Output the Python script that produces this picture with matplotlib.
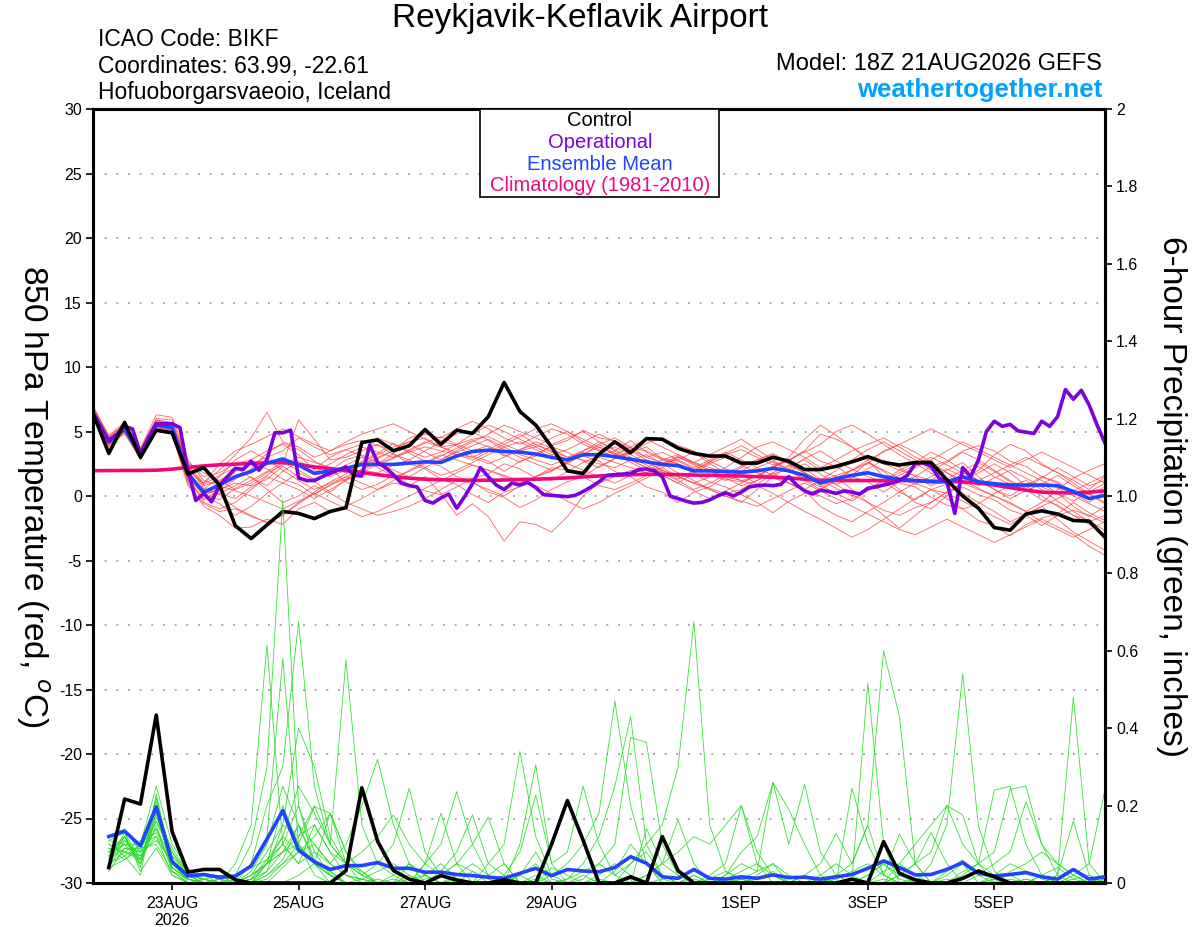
import numpy as np
import matplotlib
matplotlib.use("Agg")
import matplotlib.pyplot as plt
from matplotlib.patches import Rectangle

plt.rcParams['font.family'] = ['Liberation Sans', 'DejaVu Sans']

# -----------------------------
# data
# -----------------------------
station = "Reykjavik-Keflavik Airport"
info_lines = ["ICAO Code: BIKF", "Coordinates: 63.99, -22.61", "Hofuoborgarsvaeoio, Iceland"]
model_text = "Model: 18Z 21AUG2026 GEFS"
site_text = "weathertogether.net"

tick_hours = [30, 78, 126, 174, 246, 294, 342]
tick_labels = ["23AUG\n2026", "25AUG", "27AUG", "29AUG", "1SEP", "3SEP", "5SEP"]

# 850 hPa temperature, 6-hourly from 18Z 21AUG
control_t = [6.4, 3.3, 5.7, 3.0, 5.1, 4.9, 1.7, 2.2, 0.85, -2.3, -3.3, -2.25, -1.2, -1.35, -1.75, -1.2, -0.9,
             4.15, 4.35, 3.5, 3.9, 5.15, 4.0, 5.1, 4.85, 6.15, 8.8, 6.55, 5.5, 3.8, 1.95, 1.75, 3.25, 4.2,
             3.35, 4.45, 4.4, 3.7, 3.3, 3.1, 3.1, 2.55, 2.55, 3.0, 2.7, 2.05, 2.05, 2.3, 2.65, 3.05, 2.6,
             2.4, 2.6, 2.6, 1.25, 0.0, -0.95, -2.45, -2.65, -1.4, -1.15, -1.4, -1.9, -1.95, -3.2]
mean_t = [6.5, 4.2, 5.2, 3.2, 5.5, 5.3, 1.75, 0.3, 0.85, 1.5,
          1.9, 2.55, 2.85, 2.4, 1.75, 1.95, 2.15, 2.45, 2.45, 2.45,
          2.55, 2.65, 2.6, 3.1, 3.45, 3.55, 3.45, 3.4, 3.25, 3.0,
          2.8, 3.2, 3.2, 3.05, 2.85, 2.65, 2.45, 2.35, 1.95, 1.95,
          1.9, 1.85, 1.95, 2.15, 1.95, 1.6, 1.0, 1.35, 1.6, 1.8,
          1.5, 1.3, 1.2, 1.1, 1.1, 1.5, 1.1, 0.95, 0.85, 0.85,
          0.85, 0.8, 0.35, -0.2, 0.05]
clim_t = [1.96, 1.97, 1.98, 1.98, 2.0, 2.08, 2.22, 2.33, 2.42, 2.47,
          2.52, 2.57, 2.6, 2.45, 2.25, 2.12, 1.98, 1.82, 1.65, 1.5,
          1.38, 1.3, 1.26, 1.24, 1.22, 1.22, 1.24, 1.28, 1.3, 1.35,
          1.4, 1.48, 1.55, 1.6, 1.65, 1.68, 1.68, 1.66, 1.62, 1.6,
          1.58, 1.55, 1.5, 1.45, 1.4, 1.3, 1.22, 1.2, 1.2, 1.2,
          1.2, 1.2, 1.18, 1.15, 1.13, 1.1, 1.0, 0.85, 0.65, 0.45,
          0.3, 0.25, 0.25, 0.3, 0.4]
# operational run is 3-hourly
oper_t = [6.4, 5.3, 4.3, 4.8, 5.4, 5.2, 3.3, 4.5, 5.6, 5.6, 5.6, 5.3, 2.0, -0.35, 0.2, -0.45,
          0.85, 1.5, 2.15, 2.05, 2.7, 2.0, 2.8, 4.9, 4.9, 5.1, 1.4, 1.2, 1.2, 1.5, 1.75, 2.0,
          2.25, 1.6, 1.55, 3.95, 2.6, 2.2, 1.65, 1.0, 0.8, 0.7, -0.35, -0.55, -0.15, 0.15, -0.95, -0.05,
          0.95, 2.2, 1.5, 0.85, 0.5, 1.0, 0.85, 1.05, 0.65, 0.1, 0.05, 0.0, -0.05, 0.05, 0.35, 0.7,
          1.1, 1.6, 1.65, 1.7, 1.75, 2.05, 2.1, 1.95, 1.5, 0.0, -0.2, -0.4, -0.55, -0.5, -0.3, 0.0,
          0.25, 0.0, 0.3, 0.7, 0.8, 0.85, 0.8, 0.9, 1.5, 0.85, 0.4, 0.15, 0.45, 0.35, 0.2, 0.4,
          0.3, 0.15, 0.6, 0.7, 0.85, 1.0, 1.2, 1.6, 2.5, 2.6, 2.3, 1.4, 1.1, -1.35, 2.2, 1.5,
          2.8, 5.0, 5.8, 5.4, 5.55, 5.05, 4.95, 4.85, 5.8, 5.4, 6.15, 8.25, 7.5, 8.2, 7.05, 5.5,
          4.1]

ens_t = [
    [6.8, 4.5, 5.0, 3.5, 5.8, 5.6, 2.4, 1.0, 2.0, 3.2, 4.5, 6.5, 4.2, 3.8, 3.0, 3.5, 4.0, 4.3, 3.9, 3.6, 4.2, 4.5, 3.8, 4.0, 4.4, 4.6, 4.0, 3.5, 3.8, 4.5, 5.0, 4.2, 3.6, 3.0, 3.4, 3.8, 2.9, 2.5, 2.0, 2.6, 3.2, 3.6, 3.0, 2.4, 2.8, 3.5, 4.8, 4.4, 3.8, 3.0, 2.5, 2.0, 1.6, 1.2, 2.0, 2.6, 1.5, 0.5, 0.0, 0.8, 1.5, 1.0, 0.2, -0.5, 0.4],
    [6.3, 4.0, 5.3, 3.0, 5.2, 5.0, 1.0, -0.8, -1.5, -2.5, -2.4, -1.8, -2.2, -1.0, -0.5, -1.2, -0.8, -0.2, 0.5, 1.0, 0.8, 1.5, 0.2, -1.5, -0.6, -1.6, -3.5, -2.0, -2.2, -2.8, -1.6, 0.0, 1.0, 1.5, 2.0, 1.8, 2.2, 1.5, 1.0, 0.6, 0.2, 0.5, 1.2, 1.8, 1.0, 0.4, -0.8, -1.5, -2.0, -1.2, -0.5, 0.3, 1.0, 0.5, -0.2, -1.0, -0.6, 0.2, 0.8, 1.2, 0.5, -0.4, -1.2, -2.0, -1.5],
    [6.6, 4.3, 5.4, 3.3, 5.6, 5.4, 2.0, 0.2, 0.5, 1.0, 0.8, 1.6, 2.5, 5.9, 4.4, 2.8, 3.0, 3.5, 4.0, 3.2, 2.8, 3.5, 4.2, 4.8, 5.0, 4.3, 3.6, 3.0, 2.5, 2.0, 2.5, 3.2, 4.0, 4.5, 3.8, 3.0, 2.6, 2.8, 3.4, 2.5, 1.8, 1.2, 1.5, 2.2, 3.0, 4.4, 5.5, 4.7, 3.8, 2.8, 1.5, 0.5, -0.5, -1.0, 0.0, 1.2, 2.0, 3.2, 4.0, 3.5, 2.5, 1.8, 1.2, 0.5, 1.5],
    [6.4, 4.1, 5.1, 3.1, 5.4, 5.2, 1.5, -0.5, -1.0, -0.5, 0.5, 1.5, 1.0, 0.5, -0.2, 0.5, 1.2, 1.8, 2.5, 3.0, 3.4, 3.8, 3.5, 3.2, 3.0, 3.6, 4.2, 4.8, 4.0, 3.5, 3.0, 2.8, 2.5, 2.2, 2.8, 3.2, 2.5, 1.8, 1.2, 0.5, 0.0, -0.5, 0.5, 1.5, 2.3, 2.8, 2.0, 1.5, 0.5, -0.5, -1.5, -2.5, -1.5, -0.5, 0.3, 1.0, 1.8, 2.5, 1.8, 0.8, 0.0, -0.8, -1.5, -2.2, -3.0],
    [7.0, 4.6, 5.6, 3.6, 6.0, 5.9, 2.6, 1.5, 1.8, 2.5, 2.8, 3.5, 4.0, 3.2, 2.0, 1.5, 2.0, 2.6, 3.2, 3.8, 4.2, 4.8, 4.5, 5.2, 5.8, 5.2, 4.5, 4.0, 4.6, 5.2, 4.8, 4.0, 3.5, 3.8, 3.2, 2.6, 2.0, 1.5, 1.0, 1.5, 2.2, 3.0, 3.8, 4.2, 3.6, 3.0, 2.2, 2.8, 3.5, 4.0, 4.5, 3.8, 3.0, 2.5, 1.8, 1.0, 0.5, 0.0, -0.5, -1.2, -0.5, 0.5, 1.4, 2.0, 2.5],
    [6.2, 3.9, 4.9, 2.8, 5.1, 4.9, 1.2, -0.3, 0.2, 0.8, 1.5, 0.5, -0.5, 0.0, 0.8, 0.2, -0.5, -1.0, -1.5, -1.2, -0.8, -0.2, 0.5, 1.2, 1.0, 0.5, 0.0, 0.8, 1.5, 2.2, 2.0, 1.5, 0.8, 0.5, 1.0, 1.6, 2.2, 3.0, 2.5, 2.0, 1.5, 1.2, 0.8, 0.2, -0.5, -1.2, -1.8, -2.5, -3.2, -2.6, -1.8, -1.0, -0.2, 0.5, 0.2, -0.4, -1.0, -1.6, -2.2, -1.5, -0.8, -1.8, -2.8, -3.5, -4.2],
    [6.5, 4.4, 5.2, 3.4, 5.7, 5.5, 2.2, 0.8, 1.2, 2.0, 2.5, 3.0, 3.5, 4.5, 3.8, 3.2, 3.6, 4.0, 4.5, 4.0, 3.5, 3.0, 3.4, 4.0, 4.8, 5.5, 5.0, 4.4, 3.8, 3.2, 3.6, 4.2, 4.8, 4.2, 3.6, 3.0, 3.4, 2.8, 2.2, 2.8, 3.4, 2.8, 2.2, 1.6, 1.0, 0.5, 1.2, 2.0, 2.8, 3.6, 4.2, 3.5, 2.8, 2.0, 2.6, 3.4, 2.8, 2.0, 1.2, 0.6, 1.4, 2.2, 1.5, 0.8, 1.2],
    [6.7, 4.2, 5.5, 3.2, 5.3, 5.1, 1.8, 0.0, -0.6, -1.5, -0.8, 0.2, 1.0, 1.8, 1.2, 2.0, 2.8, 3.2, 2.6, 2.0, 1.5, 2.2, 2.8, 3.4, 3.0, 2.5, 3.0, 3.6, 4.0, 3.4, 2.8, 3.5, 4.2, 3.6, 3.0, 2.4, 1.8, 1.2, 0.5, 1.0, 1.6, 2.2, 2.8, 3.3, 2.6, 1.8, 0.8, 0.2, -0.4, 0.5, 1.2, 2.0, 2.6, 3.4, 2.8, 2.0, 1.2, 0.5, -0.2, 0.4, 1.0, 0.2, -0.8, -1.6, -0.8],
    [6.1, 4.0, 5.0, 3.0, 5.5, 5.3, 1.6, 0.5, 1.5, 2.8, 3.5, 2.8, 2.0, 1.2, 0.5, 1.0, 1.5, 2.0, 1.8, 2.4, 2.8, 2.2, 1.6, 2.0, 2.6, 3.2, 3.8, 4.2, 3.6, 3.0, 2.5, 2.0, 1.5, 1.0, 1.6, 2.2, 2.8, 3.2, 2.6, 2.0, 1.4, 0.8, 1.2, 1.8, 2.4, 1.8, 1.2, 1.6, 2.0, 2.5, 3.5, 4.0, 3.4, 2.6, 1.8, 1.2, 0.6, 0.0, -0.6, -1.2, -2.0, -2.6, -3.2, -2.6, -2.0],
    [6.9, 4.7, 5.7, 3.7, 6.3, 6.1, 2.8, 1.2, 0.8, 0.4, 0.0, -0.5, -1.0, -0.4, 0.2, 0.8, 1.5, 1.0, 0.5, 1.2, 2.0, 2.6, 3.2, 2.8, 2.4, 2.0, 1.5, 1.0, 1.5, 2.0, 2.6, 3.2, 3.8, 3.3, 2.8, 2.2, 1.6, 1.0, 0.4, -0.2, 0.4, 1.0, 1.6, 2.2, 2.8, 3.4, 4.0, 5.0, 5.5, 4.8, 4.0, 3.2, 2.5, 1.8, 1.0, 0.2, -0.5, -1.2, -2.0, -1.4, -0.8, -0.2, 0.4, 1.0, 1.6],
    [6.3, 4.2, 5.1, 3.2, 5.5, 5.3, 1.4, 0.2, 0.8, 1.4, 2.0, 2.6, 3.0, 2.5, 1.8, 2.5, 3.2, 3.8, 3.4, 3.0, 3.6, 4.2, 3.8, 3.4, 3.9, 4.4, 3.8, 3.2, 2.8, 2.4, 2.9, 3.4, 3.0, 2.6, 2.2, 1.8, 2.4, 3.0, 2.6, 2.2, 1.8, 2.3, 2.8, 3.2, 2.5, 1.8, 1.2, 0.6, 0.0, 0.6, 1.2, 1.8, 2.4, 3.0, 2.4, 1.8, 1.2, 1.8, 2.4, 3.0, 2.4, 1.8, 1.0, 0.2, -0.5],
    [6.6, 4.5, 5.3, 3.6, 5.9, 5.7, 2.5, 1.8, 1.2, 0.5, 1.0, 1.8, 2.4, 3.0, 2.6, 2.2, 1.8, 2.4, 3.0, 3.5, 4.0, 3.4, 2.8, 3.5, 4.2, 4.8, 5.5, 5.0, 4.5, 4.0, 4.5, 5.0, 4.2, 3.5, 2.8, 2.2, 1.6, 1.0, 1.8, 2.5, 3.0, 2.4, 1.8, 1.4, 1.0, 0.5, 0.0, -0.6, -0.2, 0.4, 1.0, 1.6, 2.2, 2.8, 3.5, 4.2, 3.6, 3.0, 2.4, 1.8, 1.2, 0.6, 0.0, -0.6, -1.2],
    [6.4, 4.1, 5.2, 2.9, 5.0, 4.8, 0.8, -0.6, -1.2, -1.0, -1.6, -2.0, -1.5, -0.6, 0.2, -0.4, -1.0, -1.6, -1.2, -0.6, 0.0, 0.6, 1.2, 1.8, 2.4, 2.0, 1.6, 1.2, 0.8, 0.2, -0.4, -1.0, -0.5, 0.2, 0.8, 1.4, 2.0, 1.5, 1.0, 0.5, 0.0, -0.4, -0.8, -0.2, 0.4, 1.0, 0.4, -0.2, -0.8, -1.4, -2.0, -2.6, -3.0, -2.4, -1.8, -2.4, -3.0, -3.6, -3.0, -2.4, -1.8, -2.4, -3.0, -3.9, -4.6],
    [6.8, 4.4, 5.4, 3.4, 5.6, 5.4, 2.0, 1.0, 2.5, 3.5, 4.0, 4.6, 5.2, 4.6, 4.0, 3.5, 4.2, 4.8, 5.2, 5.6, 5.0, 4.4, 3.8, 3.2, 2.8, 3.4, 4.0, 4.6, 5.2, 5.6, 5.0, 4.4, 3.8, 3.2, 3.8, 4.4, 3.8, 3.2, 2.6, 3.2, 3.8, 4.4, 3.6, 2.8, 2.0, 1.2, 0.5, 1.2, 2.0, 2.8, 3.4, 4.0, 4.6, 5.2, 4.6, 4.0, 3.4, 2.8, 2.2, 2.8, 3.4, 2.8, 2.2, 1.6, 1.0],
    [6.2, 4.0, 4.8, 3.0, 5.2, 5.0, 1.2, -0.2, 0.4, 1.3, 2.1, 3.3, 4.1, 3.6, 2.7, 2.1, 1.1, 0.5, 0.9, 1.6, 0.9, 0.4, 0.1, 0.7, 1.4, 1.7, 2.5, 2.1, 1.4, 1.2, 1.9, 2.6, 3.1, 3.5, 4.3, 3.4, 2.8, 2.5, 1.7, 1.1, 0.7, 0.1, -0.5, -1.3, -0.4, 0.2, 0.5, 1.3, 1.6, 2.6, 1.9, 1.0, 0.7, -0.1, -0.7, -1.0, -1.9, -2.3, -3.1, -2.2, -1.7, -1.4, -0.5, -1.3, -1.9],
    [6.5, 4.3, 5.0, 3.3, 5.4, 5.2, 1.8, 0.4, 0.1, -0.9, -1.5, -2.1, -1.5, -0.5, 0.3, 1.1, 1.7, 2.7, 3.3, 4.1, 3.3, 2.7, 2.3, 1.5, 1.1, 0.3, -0.1, -0.9, -0.3, 0.5, 1.1, 1.5, 2.3, 2.9, 3.3, 4.1, 4.5, 3.9, 3.5, 2.7, 2.1, 1.7, 0.9, 1.7, 2.1, 2.9, 3.5, 2.7, 2.1, 1.5, 1.1, 0.3, -0.3, 0.5, 0.9, 1.7, 2.3, 1.5, 0.9, 0.5, -0.3, -0.7, -1.5, -1.9, -2.7],
    [6.7, 4.6, 5.5, 3.5, 5.9, 5.6, 2.3, 0.6, 0.2, -0.2, 0.7, 1.3, 2.3, 1.5, 1.1, 0.3, 1.3, 1.9, 2.9, 3.5, 4.5, 4.9, 4.3, 3.9, 3.1, 2.7, 1.9, 2.7, 3.1, 3.9, 4.3, 5.1, 4.5, 4.3, 3.7, 3.5, 2.9, 2.7, 2.1, 1.9, 1.3, 1.1, 1.5, 2.3, 2.7, 3.5, 2.7, 2.3, 1.5, 1.1, 0.3, 1.1, 1.5, 2.3, 2.7, 3.5, 3.9, 3.5, 2.7, 2.3, 1.5, 1.1, 0.3, 0.1, 0.7],
    [6.3, 3.8, 5.0, 2.9, 5.3, 5.1, 1.5, 0.0, 0.6, 1.9, 2.5, 2.1, 1.3, 0.9, 0.1, 0.9, 1.3, 2.1, 2.5, 3.3, 2.5, 2.1, 1.3, 0.9, 0.1, -0.5, 0.3, 0.7, 1.5, 1.9, 2.7, 3.1, 2.7, 1.9, 1.5, 0.7, 0.3, -0.5, 0.3, 0.7, 1.5, 1.9, 2.7, 3.1, 2.5, 2.1, 1.3, 0.9, 0.1, -0.5, -1.1, -1.5, -0.9, -0.5, 0.3, 0.7, 0.1, -0.3, -1.1, -1.5, -2.3, -1.5, -1.1, -1.5, -2.1],
    [6.6, 4.4, 5.2, 3.1, 5.5, 5.2, 2.1, 0.9, 1.6, 2.2, 1.4, 0.8, 1.9, 2.7, 2.1, 3.0, 3.6, 3.1, 2.4, 2.9, 3.5, 4.1, 4.6, 4.0, 3.5, 3.9, 3.2, 2.6, 3.3, 3.8, 3.4, 2.7, 2.2, 2.9, 3.5, 2.8, 1.9, 1.3, 2.0, 2.7, 3.3, 3.9, 3.2, 2.6, 1.9, 2.5, 1.7, 0.9, 1.4, 2.1, 2.8, 2.2, 1.5, 0.8, 1.3, 2.0, 2.6, 1.9, 1.1, 0.4, 0.9, 1.6, 0.8, 0.1, -0.6],
    [6.4, 4.2, 5.3, 3.3, 5.6, 5.4, 1.9, 0.1, -0.3, 0.6, 1.2, 1.9, 2.6, 2.0, 1.3, 1.7, 2.4, 3.0, 2.2, 1.5, 1.9, 2.5, 3.1, 3.7, 4.3, 3.8, 3.1, 3.6, 4.2, 3.7, 3.0, 3.5, 4.0, 3.3, 2.6, 2.0, 2.5, 3.1, 2.4, 1.7, 1.2, 1.6, 2.2, 2.7, 2.0, 1.3, 0.7, 1.4, 2.0, 2.6, 2.0, 1.4, 0.9, 1.5, 2.1, 1.5, 0.8, 1.4, 2.0, 1.4, 0.7, 0.2, -0.4, 0.3, 1.0],
]

# 6-hour precipitation (inches), valid 00Z 22AUG onward
control_p = [0.04, 0.217, 0.204, 0.434, 0.133, 0.028, 0.035, 0.035, 0.008, 0.0,
             0.0, 0.0, 0.0, 0.0, 0.0, 0.032, 0.246, 0.108, 0.032, 0.01,
             0.0, 0.019, 0.008, 0.0, 0.0, 0.008, 0.0, 0.0, 0.1, 0.213,
             0.11, 0.0, 0.0, 0.016, 0.0, 0.12, 0.032, 0.0, 0.0, 0.0,
             0.0, 0.0, 0.0, 0.0, 0.0, 0.0, 0.0, 0.01, 0.0, 0.107,
             0.025, 0.008, 0.0, 0.0, 0.012, 0.031, 0.016, 0.0, 0.0, 0.0,
             0.0, 0.0, 0.0, 0.0]
mean_p = [0.12, 0.134, 0.096, 0.197, 0.055, 0.018, 0.022, 0.015, 0.018, 0.044,
          0.113, 0.187, 0.085, 0.055, 0.035, 0.045, 0.045, 0.053, 0.038, 0.038,
          0.028, 0.028, 0.022, 0.019, 0.015, 0.012, 0.025, 0.038, 0.019, 0.035,
          0.031, 0.029, 0.04, 0.068, 0.051, 0.016, 0.012, 0.035, 0.012, 0.01,
          0.016, 0.012, 0.021, 0.014, 0.015, 0.01, 0.016, 0.022, 0.038, 0.057,
          0.04, 0.021, 0.022, 0.035, 0.053, 0.025, 0.018, 0.022, 0.027, 0.016,
          0.01, 0.035, 0.01, 0.016]

ens_p = [
    [0.08, 0.10, 0.05, 0.15, 0.03, 0.01, 0.0, 0.0, 0.02, 0.10, 0.30, 0.99, 0.20, 0.05, 0.02, 0.0,
     0.0, 0.01, 0.0, 0.0, 0.02, 0.05, 0.01, 0.0, 0.0, 0.0, 0.02, 0.08, 0.01, 0.0, 0.0, 0.0,
     0.03, 0.10, 0.05, 0.0, 0.0, 0.02, 0.0, 0.0, 0.01, 0.03, 0.05, 0.02, 0.0, 0.0, 0.0, 0.0,
     0.02, 0.05, 0.01, 0.0, 0.0, 0.03, 0.06, 0.02, 0.0, 0.0, 0.01, 0.0, 0.0, 0.02, 0.0, 0.0],
    [0.12, 0.14, 0.08, 0.20, 0.05, 0.02, 0.01, 0.0, 0.05, 0.15, 0.615, 0.10, 0.05, 0.15, 0.08, 0.02,
     0.01, 0.0, 0.0, 0.05, 0.02, 0.0, 0.0, 0.03, 0.01, 0.0, 0.0, 0.0, 0.04, 0.02, 0.0, 0.0,
     0.0, 0.0, 0.0, 0.01, 0.0, 0.0, 0.02, 0.05, 0.20, 0.08, 0.02, 0.0, 0.0, 0.0, 0.01, 0.03,
     0.05, 0.02, 0.0, 0.0, 0.0, 0.01, 0.0, 0.0, 0.02, 0.05, 0.03, 0.01, 0.0, 0.0, 0.0, 0.02],
    [0.05, 0.07, 0.10, 0.12, 0.02, 0.0, 0.01, 0.02, 0.0, 0.05, 0.12, 0.58, 0.10, 0.02, 0.0, 0.0,
     0.01, 0.03, 0.05, 0.02, 0.0, 0.0, 0.01, 0.0, 0.0, 0.02, 0.0, 0.0, 0.0, 0.01, 0.03, 0.05,
     0.02, 0.05, 0.10, 0.15, 0.30, 0.675, 0.15, 0.03, 0.01, 0.0, 0.0, 0.0, 0.02, 0.01, 0.0, 0.0,
     0.0, 0.03, 0.05, 0.02, 0.0, 0.0, 0.0, 0.0, 0.01, 0.0, 0.0, 0.02, 0.04, 0.01, 0.0, 0.0],
    [0.10, 0.08, 0.06, 0.18, 0.08, 0.03, 0.02, 0.0, 0.01, 0.05, 0.20, 0.30, 0.675, 0.25, 0.10, 0.05,
     0.02, 0.0, 0.0, 0.0, 0.01, 0.02, 0.0, 0.0, 0.05, 0.10, 0.34, 0.12, 0.02, 0.0, 0.0, 0.0,
     0.0, 0.01, 0.0, 0.0, 0.0, 0.02, 0.0, 0.0, 0.0, 0.01, 0.03, 0.0, 0.0, 0.02, 0.05, 0.02,
     0.0, 0.0, 0.0, 0.01, 0.0, 0.0, 0.03, 0.05, 0.24, 0.25, 0.10, 0.02, 0.0, 0.0, 0.01, 0.0],
    [0.07, 0.12, 0.04, 0.22, 0.06, 0.0, 0.0, 0.01, 0.0, 0.02, 0.08, 0.15, 0.12, 0.20, 0.10, 0.576,
     0.15, 0.05, 0.02, 0.0, 0.0, 0.0, 0.02, 0.05, 0.02, 0.0, 0.0, 0.01, 0.0, 0.0, 0.02, 0.0,
     0.0, 0.0, 0.0, 0.0, 0.0, 0.01, 0.0, 0.02, 0.05, 0.03, 0.26, 0.19, 0.10, 0.02, 0.0, 0.0,
     0.0, 0.0, 0.0, 0.0, 0.0, 0.02, 0.05, 0.0, 0.0, 0.0, 0.01, 0.0, 0.02, 0.48, 0.05, 0.0],
    [0.09, 0.06, 0.10, 0.25, 0.10, 0.04, 0.0, 0.0, 0.0, 0.01, 0.05, 0.10, 0.20, 0.08, 0.05, 0.10,
     0.20, 0.32, 0.15, 0.05, 0.02, 0.0, 0.0, 0.0, 0.0, 0.0, 0.02, 0.0, 0.0, 0.0, 0.0, 0.01,
     0.0, 0.0, 0.02, 0.05, 0.02, 0.0, 0.0, 0.0, 0.01, 0.0, 0.0, 0.0, 0.02, 0.0, 0.0, 0.01,
     0.516, 0.10, 0.0, 0.0, 0.0, 0.0, 0.0, 0.0, 0.01, 0.02, 0.0, 0.0, 0.0, 0.01, 0.02, 0.0],
    [0.04, 0.11, 0.07, 0.14, 0.04, 0.01, 0.0, 0.0, 0.0, 0.0, 0.02, 0.05, 0.08, 0.12, 0.18, 0.05,
     0.02, 0.05, 0.10, 0.245, 0.08, 0.02, 0.0, 0.0, 0.0, 0.01, 0.0, 0.0, 0.02, 0.05, 0.10, 0.18,
     0.47, 0.20, 0.05, 0.0, 0.0, 0.0, 0.0, 0.01, 0.0, 0.0, 0.0, 0.0, 0.0, 0.01, 0.0, 0.0,
     0.0, 0.0, 0.02, 0.05, 0.13, 0.05, 0.0, 0.0, 0.0, 0.0, 0.0, 0.02, 0.0, 0.0, 0.0, 0.0],
    [0.06, 0.09, 0.09, 0.16, 0.07, 0.02, 0.01, 0.0, 0.0, 0.03, 0.10, 0.25, 0.15, 0.05, 0.02, 0.0,
     0.0, 0.0, 0.02, 0.05, 0.0, 0.0, 0.01, 0.0, 0.0, 0.0, 0.0, 0.02, 0.0, 0.01, 0.05, 0.12,
     0.25, 0.43, 0.10, 0.02, 0.0, 0.0, 0.01, 0.03, 0.01, 0.0, 0.0, 0.0, 0.0, 0.0, 0.02, 0.05,
     0.15, 0.60, 0.43, 0.05, 0.0, 0.0, 0.0, 0.0, 0.0, 0.01, 0.0, 0.0, 0.0, 0.0, 0.0, 0.02],
    [0.11, 0.13, 0.06, 0.19, 0.03, 0.0, 0.0, 0.01, 0.02, 0.04, 0.06, 0.12, 0.25, 0.18, 0.10, 0.05,
     0.0, 0.0, 0.0, 0.01, 0.02, 0.0, 0.0, 0.0, 0.0, 0.0, 0.0, 0.0, 0.0, 0.0, 0.01, 0.05,
     0.10, 0.376, 0.363, 0.10, 0.02, 0.0, 0.0, 0.0, 0.0, 0.02, 0.05, 0.0, 0.0, 0.0, 0.0, 0.0,
     0.0, 0.0, 0.02, 0.05, 0.08, 0.20, 0.176, 0.05, 0.0, 0.0, 0.0, 0.0, 0.02, 0.0, 0.0, 0.0],
    [0.05, 0.08, 0.11, 0.13, 0.05, 0.02, 0.0, 0.0, 0.0, 0.0, 0.03, 0.15, 0.40, 0.30, 0.12, 0.05,
     0.03, 0.0, 0.0, 0.0, 0.0, 0.0, 0.0, 0.0, 0.0, 0.0, 0.02, 0.05, 0.0, 0.0, 0.0, 0.0,
     0.0, 0.02, 0.0, 0.0, 0.0, 0.0, 0.0, 0.01, 0.03, 0.05, 0.02, 0.0, 0.0, 0.0, 0.0, 0.0,
     0.0, 0.01, 0.0, 0.0, 0.05, 0.15, 0.54, 0.146, 0.03, 0.0, 0.0, 0.0, 0.0, 0.0, 0.0, 0.0],
    [0.08, 0.12, 0.05, 0.17, 0.09, 0.03, 0.01, 0.0, 0.0, 0.02, 0.05, 0.08, 0.15, 0.10, 0.05, 0.02,
     0.01, 0.0, 0.0, 0.0, 0.0, 0.02, 0.05, 0.03, 0.0, 0.0, 0.10, 0.305, 0.05, 0.08, 0.25, 0.10,
     0.02, 0.0, 0.0, 0.0, 0.0, 0.0, 0.0, 0.0, 0.01, 0.0, 0.0, 0.0, 0.0, 0.0, 0.0, 0.0,
     0.02, 0.05, 0.02, 0.0, 0.0, 0.0, 0.0, 0.0, 0.0, 0.0, 0.0, 0.0, 0.0, 0.0, 0.0, 0.01],
    [0.10, 0.07, 0.02, 0.23, 0.04, 0.01, 0.0, 0.0, 0.0, 0.0, 0.01, 0.05, 0.10, 0.197, 0.18, 0.08,
     0.02, 0.0, 0.0, 0.0, 0.05, 0.10, 0.236, 0.10, 0.02, 0.0, 0.0, 0.0, 0.0, 0.0, 0.0, 0.0,
     0.0, 0.0, 0.02, 0.05, 0.08, 0.12, 0.10, 0.15, 0.20, 0.05, 0.0, 0.0, 0.0, 0.0, 0.0, 0.0,
     0.0, 0.0, 0.0, 0.0, 0.0, 0.0, 0.0, 0.02, 0.05, 0.08, 0.21, 0.10, 0.02, 0.16, 0.02, 0.0],
    [0.03, 0.09, 0.08, 0.11, 0.06, 0.02, 0.01, 0.0, 0.0, 0.02, 0.05, 0.12, 0.08, 0.05, 0.02, 0.0,
     0.0, 0.0, 0.01, 0.0, 0.0, 0.0, 0.0, 0.0, 0.0, 0.0, 0.0, 0.0, 0.0, 0.0, 0.0, 0.02,
     0.05, 0.02, 0.0, 0.0, 0.0, 0.0, 0.0, 0.02, 0.08, 0.12, 0.26, 0.10, 0.255, 0.08, 0.02, 0.0,
     0.0, 0.0, 0.0, 0.0, 0.0, 0.0, 0.02, 0.05, 0.08, 0.242, 0.25, 0.10, 0.05, 0.02, 0.05, 0.242],
    [0.07, 0.10, 0.10, 0.21, 0.07, 0.03, 0.02, 0.01, 0.0, 0.01, 0.03, 0.08, 0.12, 0.15, 0.08, 0.05,
     0.08, 0.12, 0.176, 0.10, 0.05, 0.02, 0.05, 0.10, 0.17, 0.05, 0.0, 0.0, 0.0, 0.0, 0.0, 0.0,
     0.0, 0.0, 0.14, 0.05, 0.163, 0.05, 0.0, 0.0, 0.0, 0.0, 0.0, 0.0, 0.0, 0.0, 0.0, 0.245,
     0.10, 0.02, 0.0, 0.0, 0.0, 0.0, 0.0, 0.0, 0.0, 0.0, 0.0, 0.0, 0.0, 0.0, 0.0, 0.0],
    [0.09, 0.08, 0.07, 0.12, 0.05, 0.01, 0.0, 0.0, 0.0, 0.0, 0.0, 0.04, 0.08, 0.10, 0.05, 0.02,
     0.0, 0.0, 0.0, 0.0, 0.0, 0.03, 0.08, 0.176, 0.05, 0.02, 0.08, 0.227, 0.05, 0.0, 0.0, 0.0,
     0.0, 0.0, 0.0, 0.0, 0.0, 0.0, 0.0, 0.0, 0.0, 0.0, 0.0, 0.0, 0.02, 0.05, 0.128, 0.05,
     0.15, 0.02, 0.126, 0.05, 0.0, 0.0, 0.0, 0.0, 0.0, 0.0, 0.0, 0.0, 0.0, 0.0, 0.0, 0.0],
    [0.06, 0.13, 0.03, 0.09, 0.02, 0.0, 0.0, 0.0, 0.0, 0.0, 0.05, 0.08, 0.10, 0.05, 0.18, 0.08,
     0.03, 0.0, 0.0, 0.0, 0.05, 0.18, 0.05, 0.0, 0.0, 0.0, 0.0, 0.0, 0.0, 0.0, 0.0, 0.0,
     0.0, 0.0, 0.0, 0.0, 0.0, 0.0, 0.0, 0.0, 0.0, 0.0, 0.0, 0.0, 0.0, 0.0, 0.0, 0.0,
     0.0, 0.0, 0.0, 0.0, 0.0, 0.0, 0.0, 0.0, 0.0, 0.0, 0.0, 0.0, 0.0, 0.0, 0.0, 0.0],
    [0.08, 0.11, 0.06, 0.16, 0.08, 0.02, 0.0, 0.0, 0.0, 0.01, 0.06, 0.10, 0.05, 0.08, 0.02, 0.0,
     0.0, 0.0, 0.0, 0.02, 0.0, 0.0, 0.0, 0.0, 0.0, 0.0, 0.0, 0.0, 0.0, 0.0, 0.0, 0.0,
     0.0, 0.05, 0.08, 0.02, 0.0, 0.0, 0.0, 0.0, 0.0, 0.0, 0.0, 0.0, 0.0, 0.0, 0.0, 0.0,
     0.0, 0.0, 0.05, 0.10, 0.15, 0.20, 0.10, 0.05, 0.02, 0.0, 0.0, 0.0, 0.0, 0.0, 0.0, 0.0],
    [0.04, 0.06, 0.09, 0.10, 0.03, 0.0, 0.0, 0.0, 0.0, 0.0, 0.02, 0.06, 0.15, 0.06, 0.03, 0.0,
     0.0, 0.0, 0.0, 0.0, 0.0, 0.0, 0.0, 0.0, 0.02, 0.05, 0.0, 0.0, 0.0, 0.0, 0.0, 0.0,
     0.0, 0.0, 0.0, 0.0, 0.0, 0.0, 0.0, 0.0, 0.0, 0.0, 0.0, 0.0, 0.0, 0.0, 0.0, 0.0,
     0.0, 0.0, 0.0, 0.0, 0.0, 0.0, 0.0, 0.0, 0.0, 0.03, 0.05, 0.08, 0.05, 0.02, 0.0, 0.0],
    [0.11, 0.10, 0.08, 0.14, 0.06, 0.02, 0.0, 0.0, 0.0, 0.0, 0.0, 0.0, 0.02, 0.05, 0.03, 0.0,
     0.0, 0.0, 0.0, 0.0, 0.0, 0.0, 0.0, 0.0, 0.0, 0.0, 0.0, 0.0, 0.0, 0.0, 0.0, 0.0,
     0.0, 0.0, 0.0, 0.0, 0.0, 0.0, 0.0, 0.0, 0.0, 0.0, 0.0, 0.0, 0.0, 0.0, 0.0, 0.0,
     0.0, 0.0, 0.0, 0.0, 0.0, 0.0, 0.0, 0.0, 0.0, 0.0, 0.0, 0.0, 0.0, 0.0, 0.0, 0.0],
    [0.05, 0.12, 0.05, 0.18, 0.04, 0.01, 0.0, 0.0, 0.0, 0.0, 0.05, 0.20, 0.10, 0.05, 0.0, 0.0,
     0.0, 0.0, 0.0, 0.0, 0.0, 0.0, 0.0, 0.0, 0.0, 0.0, 0.0, 0.0, 0.0, 0.0, 0.0, 0.0,
     0.0, 0.0, 0.0, 0.0, 0.0, 0.0, 0.0, 0.0, 0.0, 0.0, 0.0, 0.0, 0.0, 0.0, 0.0, 0.0,
     0.0, 0.0, 0.0, 0.0, 0.0, 0.0, 0.0, 0.0, 0.0, 0.0, 0.0, 0.0, 0.0, 0.0, 0.0, 0.0],
]

# -----------------------------
# figure
# -----------------------------
W, H = 1200, 927
fig = plt.figure(figsize=(W / 100, H / 100), dpi=100)
ax = fig.add_axes([93 / W, 1 - 883 / H, (1105 - 93) / W, (883 - 109) / H])
ax2 = ax.twinx()

hours_t = np.arange(len(control_t)) * 6
hours_op = np.arange(len(oper_t)) * 3
hours_p = np.arange(1, len(control_p) + 1) * 6

# temperature plume
for member in ens_t:
    ax.plot(hours_t, member, color='#ff4646', lw=0.6, alpha=0.85, zorder=2)
ax.plot(hours_t, clim_t, color='#f0087c', lw=2.6, zorder=4)
ax.plot(hours_t, mean_t, color='#2244ff', lw=2.6, zorder=5)
ax.plot(hours_op, oper_t, color='#7d00dd', lw=2.6, zorder=6)
ax.plot(hours_t, control_t, color='black', lw=2.6, zorder=7)

# precipitation plume
for member in ens_p:
    ax2.plot(hours_p, member, color='#22dd22', lw=0.6, alpha=0.9, zorder=2)
ax2.plot(hours_p, mean_p, color='#2244ff', lw=2.6, zorder=5)
ax2.plot(hours_p, control_p, color='black', lw=2.6, zorder=6)

ax.set_xlim(0, 384)
ax.set_ylim(-30, 30)
ax2.set_ylim(0, 2)

ax.set_yticks(np.arange(-30, 31, 5))
ax.set_yticklabels([str(v) for v in range(-30, 31, 5)])
p_ticks = np.round(np.arange(0, 2.01, 0.2), 1)
ax2.set_yticks(p_ticks)
ax2.set_yticklabels(['0' if v == 0 else ('2' if v == 2 else f'{v:.1f}') for v in p_ticks])
ax.set_xticks(tick_hours)
ax.set_xticklabels(tick_labels)

for a in (ax, ax2):
    a.tick_params(direction='out', length=5, width=1.2, labelsize=11.5, pad=3)
    for s in a.spines.values():
        s.set_linewidth(2.2)
ax.tick_params(axis='x', pad=4)

ax.grid(axis='y', color='#aaaaaa', linestyle=(0, (1, 5)), linewidth=1.4)
ax.set_axisbelow(True)

# axis labels
fig.text(33 / W, 1 - 496 / H, "850 hPa Temperature (red, $^{o}$C)", rotation=270,
         ha='center', va='center', fontsize=24)
fig.text(1171 / W, 1 - 496 / H, "6-hour Precipitation (green, inches)", rotation=270,
         ha='center', va='center', fontsize=24)

# header
fig.text(580 / W, 1 - 18 / H, station, ha='center', va='center', fontsize=24)
for k, line in enumerate(info_lines):
    fig.text(98 / W, 1 - (40 + 26.5 * k) / H, line, ha='left', va='center', fontsize=16.5)
fig.text(1102 / W, 1 - 64 / H, model_text, ha='right', va='center', fontsize=17)
fig.text(1102 / W, 1 - 90 / H, site_text, ha='right', va='center', fontsize=18.5,
         fontweight='bold', color='#00a2ff')

# legend box
fig.add_artist(Rectangle((480 / W, 1 - 197 / H), 239 / W, 88 / H, transform=fig.transFigure,
                         facecolor='white', edgecolor='black', lw=1.2, zorder=10))
legend_items = [("Control", 'black'), ("Operational", '#7d00dd'),
                ("Ensemble Mean", '#2244ff'), ("Climatology (1981-2010)", '#f0087c')]
for k, (txt, col) in enumerate(legend_items):
    fig.text(600 / W, 1 - (121 + 21.5 * k) / H, txt, ha='center', va='center',
             fontsize=14.5, color=col, zorder=11)

fig.savefig("out.png", dpi=100)
